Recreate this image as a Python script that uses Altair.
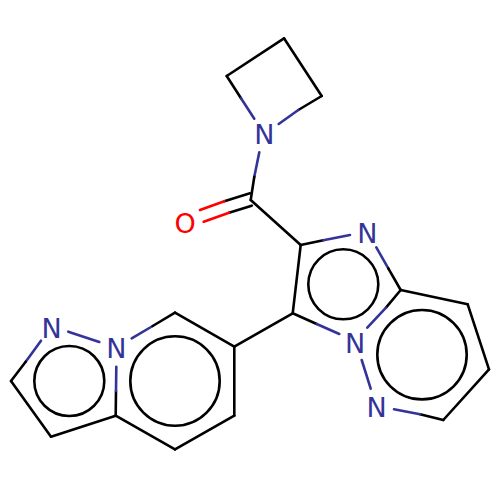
import altair as alt
import pandas as pd

BLACK = "#000000"; BLUE = "#333399"; RED = "#FF0000"

x1 = [284,284,226.7,241,321.7,298.3,259.3,254.3,
      250,224.3,251.7,229,250.7,
      300.7,323.3,376.3,388.3,400.7,467.7,489,443.3,420,361.7,
      400.7,386,292.7,316.7,300.7,
      68.3,41,25.7,11,51,115.7,116,131.7,152.7,175,234.3,234.3,175,234.3]
y1 = [38.3,38.3,76,98.3,96,110,152.3,176.7,
      193.3,201.3,205.7,212.7,200,
      245,240.3,247.3,268.3,290,304.3,369.3,420,414.3,360,
      290,307.7,313.3,324,245,
      331.7,340.7,361.7,381,436.7,415.7,391,338.3,326,312.7,346.7,415.7,449.3,346.7]
x2 = [321.7,226.7,241,254.3,298.3,278.7,254.3,250.7,
      224.3,200,229,203.7,300.7,
      323.3,350,388.3,400.7,467.7,489,443.3,420,394,370.7,
      386,367.3,316.7,339.3,292.7,
      99.3,25.7,11,51,115.7,116,116.3,152.7,175,234.3,234.3,175,115.7,292.7]
y2 = [96,76,98.3,118.7,110,124,176.7,200,
      201.3,210,212.7,221.7,245,
      240.3,235,268.3,290,304.3,369.3,420,414.3,409.3,388.7,
      307.7,327.7,324,334,313.3,
      342,361.7,381,436.7,415.7,391,366.7,326,312.7,346.7,415.7,449.3,415.7,313.3]
bond_color = [BLACK,BLACK,BLACK,BLUE,BLACK,BLUE,BLUE,BLACK,
              BLACK,RED,BLACK,RED,BLACK,
              BLACK,BLUE,BLUE,BLACK,BLACK,BLACK,BLACK,BLACK,BLUE,BLUE,
              BLACK,BLUE,BLACK,BLUE,BLACK,
              BLUE,BLUE,BLACK,BLACK,BLACK,BLACK,BLUE,BLUE,BLACK,BLACK,BLACK,BLACK,BLACK,BLACK]

ring_x = [343.3,422,69.3,175]
ring_y = [284.3,354.7,381,381]
ring_size = [4900,7992,4900,7992]

atom_label = ["N","O","N","N","N","N","N"]
atom_x = [264.3,185,367.3,355,376.7,51.7,116.3]
atom_y = [136,224.5,234.5,344.5,408.7,329.7,350.3]
atom_color = [BLUE,RED,BLUE,BLUE,BLUE,BLUE,BLUE]

bonds = pd.DataFrame({"x": x1, "y": y1, "x2": x2, "y2": y2, "c": bond_color})
rings = pd.DataFrame({"x": ring_x, "y": ring_y, "s": ring_size})
atoms = pd.DataFrame({"x": atom_x, "y": atom_y, "t": atom_label, "c": atom_color})

X = alt.X("x:Q", scale=alt.Scale(domain=[8, 492], nice=False, zero=False), axis=None)
Y = alt.Y("y:Q", scale=alt.Scale(domain=[492, 8], nice=False, zero=False), axis=None)

rule = alt.Chart(bonds).mark_rule(strokeWidth=2.6, strokeCap="round").encode(
    x=X, y=Y, x2="x2:Q", y2="y2:Q", color=alt.Color("c:N", scale=None))
circ = alt.Chart(rings).mark_point(filled=False, shape="circle", color=BLACK, strokeWidth=2.6, opacity=1).encode(
    x=X, y=Y, size=alt.Size("s:Q", scale=None))
text = alt.Chart(atoms).mark_text(font="DejaVu Sans", fontSize=27, baseline="middle", align="center").encode(
    x=X, y=Y, text="t:N", color=alt.Color("c:N", scale=None))

chart = (circ + rule + text).properties(width=484, height=484, padding=0, autosize="none").configure_view(stroke=None)
chart.save("out.html", embed_options={"renderer": "svg", "actions": False})
